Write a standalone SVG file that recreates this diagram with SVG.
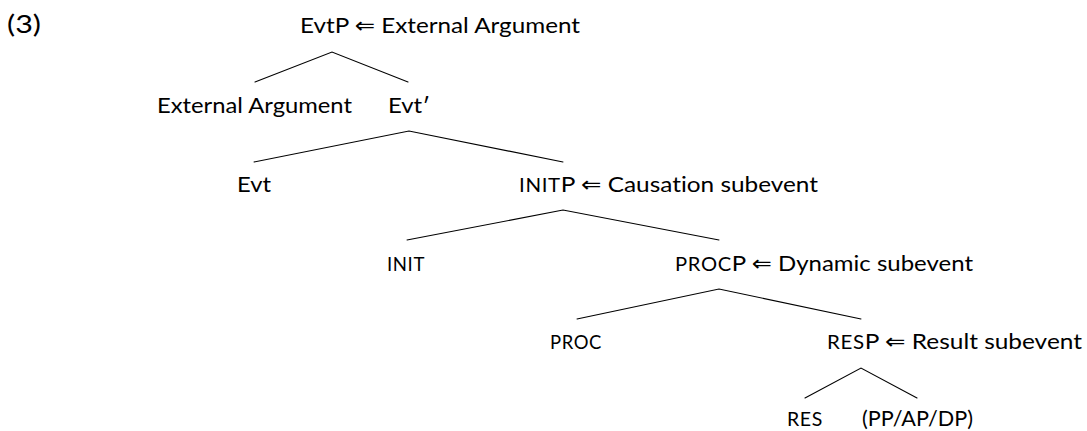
<svg xmlns="http://www.w3.org/2000/svg" width="1087" height="431" viewBox="0 0 1087 431">
<style>
  text { font-family: Lato, "DejaVu Sans", sans-serif; font-size: 22px; fill: #000; font-variant-ligatures: none; font-feature-settings: "liga" 0, "dlig" 0; }
  .sc { font-size: 18.5px; letter-spacing: 0.6px; }
  .edge { stroke: #000; stroke-width: 1.1; fill: none; stroke-linecap: round; }
</style>
<rect width="1087" height="431" fill="#fff"/>
<text id="ex-number" x="7" y="33" style="font-size:25px" textLength="34" lengthAdjust="spacingAndGlyphs">(3)</text>
<g id="connectors">
  <path class="edge" d="M255 82 L332 52 L408 82"/>
  <path class="edge" d="M254 162 L409 131 L563 162"/>
  <path class="edge" d="M407 240 L563 210 L719 240"/>
  <path class="edge" d="M577 319 L719 289 L861 319"/>
  <path class="edge" d="M805 398 L861 368 L917 398"/>
</g>
<g id="node-evtp"><text x="300" y="33" textLength="280" lengthAdjust="spacingAndGlyphs">EvtP ⇐ External Argument</text></g>
<g id="node-extarg"><text x="157" y="113" textLength="195" lengthAdjust="spacingAndGlyphs">External Argument</text></g>
<g id="node-evtbar"><text x="388" y="113" textLength="42" lengthAdjust="spacingAndGlyphs">Evt′</text></g>
<g id="node-evt"><text x="237" y="192" textLength="34" lengthAdjust="spacingAndGlyphs">Evt</text></g>
<g id="node-initp"><text x="519" y="192" textLength="299" lengthAdjust="spacingAndGlyphs"><tspan class="sc">INIT</tspan>P ⇐ Causation subevent</text></g>
<g id="node-init"><text x="387" y="271" textLength="38" lengthAdjust="spacingAndGlyphs"><tspan class="sc">INIT</tspan></text></g>
<g id="node-procp"><text x="675" y="271" textLength="298" lengthAdjust="spacingAndGlyphs"><tspan class="sc">PROC</tspan>P ⇐ Dynamic subevent</text></g>
<g id="node-proc"><text x="550" y="349" textLength="52" lengthAdjust="spacingAndGlyphs"><tspan class="sc">PROC</tspan></text></g>
<g id="node-resp"><text x="827" y="349" textLength="255" lengthAdjust="spacingAndGlyphs"><tspan class="sc">RES</tspan>P ⇐ Result subevent</text></g>
<g id="node-res"><text x="787" y="426" textLength="36" lengthAdjust="spacingAndGlyphs"><tspan class="sc">RES</tspan></text></g>
<g id="node-pp"><text x="862" y="426" textLength="111" lengthAdjust="spacingAndGlyphs">(PP/AP/DP)</text></g>
</svg>
